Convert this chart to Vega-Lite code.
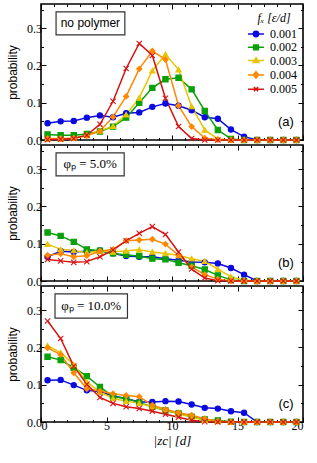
{
"$schema": "https://vega.github.io/schema/vega-lite/v6.json",
"padding": {"left": 5, "top": 2, "right": 11, "bottom": 2},
"background": "white",
"spacing": 5,
"bounds": "flush",
"config": {
 "view": {"stroke": "black", "strokeWidth": 1.6},
 "axis": {"domain": false, "grid": false, "tickColor": "black", "tickWidth": 1, "labelFont": "Liberation Serif", "labelFontSize": 12, "labelColor": "black", "titleFont": "Liberation Sans", "titleFontWeight": "normal", "titleFontSize": 12, "titleColor": "black", "labelPadding": 4.5, "titlePadding": 7}
},
"datasets": {"d": [
{"p":"a","f":"0.001","z":0.5,"v":0.045},{"p":"a","f":"0.001","z":1.5,"v":0.050},{"p":"a","f":"0.001","z":2.5,"v":0.051},{"p":"a","f":"0.001","z":3.5,"v":0.060},{"p":"a","f":"0.001","z":4.5,"v":0.066},{"p":"a","f":"0.001","z":5.5,"v":0.061},{"p":"a","f":"0.001","z":6.5,"v":0.072},{"p":"a","f":"0.001","z":7.5,"v":0.074},{"p":"a","f":"0.001","z":8.5,"v":0.089},{"p":"a","f":"0.001","z":9.5,"v":0.098},{"p":"a","f":"0.001","z":10.5,"v":0.092},{"p":"a","f":"0.001","z":11.5,"v":0.080},{"p":"a","f":"0.001","z":12.5,"v":0.061},{"p":"a","f":"0.001","z":13.5,"v":0.057},{"p":"a","f":"0.001","z":14.5,"v":0.028},{"p":"a","f":"0.001","z":15.5,"v":0.009},{"p":"a","f":"0.001","z":16.5,"v":0},{"p":"a","f":"0.001","z":17.5,"v":0},{"p":"a","f":"0.001","z":18.5,"v":0},{"p":"a","f":"0.001","z":19.5,"v":0},
{"p":"a","f":"0.002","z":0.5,"v":0.015},{"p":"a","f":"0.002","z":1.5,"v":0.013},{"p":"a","f":"0.002","z":2.5,"v":0.013},{"p":"a","f":"0.002","z":3.5,"v":0.016},{"p":"a","f":"0.002","z":4.5,"v":0.023},{"p":"a","f":"0.002","z":5.5,"v":0.036},{"p":"a","f":"0.002","z":6.5,"v":0.060},{"p":"a","f":"0.002","z":7.5,"v":0.100},{"p":"a","f":"0.002","z":8.5,"v":0.140},{"p":"a","f":"0.002","z":9.5,"v":0.163},{"p":"a","f":"0.002","z":10.5,"v":0.167},{"p":"a","f":"0.002","z":11.5,"v":0.136},{"p":"a","f":"0.002","z":12.5,"v":0.078},{"p":"a","f":"0.002","z":13.5,"v":0.027},{"p":"a","f":"0.002","z":14.5,"v":0.003},{"p":"a","f":"0.002","z":15.5,"v":0},{"p":"a","f":"0.002","z":16.5,"v":0},{"p":"a","f":"0.002","z":17.5,"v":0},{"p":"a","f":"0.002","z":18.5,"v":0},{"p":"a","f":"0.002","z":19.5,"v":0},
{"p":"a","f":"0.003","z":0.5,"v":0.003},{"p":"a","f":"0.003","z":1.5,"v":0.003},{"p":"a","f":"0.003","z":2.5,"v":0.005},{"p":"a","f":"0.003","z":3.5,"v":0.012},{"p":"a","f":"0.003","z":4.5,"v":0.025},{"p":"a","f":"0.003","z":5.5,"v":0.037},{"p":"a","f":"0.003","z":6.5,"v":0.068},{"p":"a","f":"0.003","z":7.5,"v":0.113},{"p":"a","f":"0.003","z":8.5,"v":0.186},{"p":"a","f":"0.003","z":9.5,"v":0.230},{"p":"a","f":"0.003","z":10.5,"v":0.189},{"p":"a","f":"0.003","z":11.5,"v":0.090},{"p":"a","f":"0.003","z":12.5,"v":0.027},{"p":"a","f":"0.003","z":13.5,"v":0.003},{"p":"a","f":"0.003","z":14.5,"v":0},{"p":"a","f":"0.003","z":15.5,"v":0},{"p":"a","f":"0.003","z":16.5,"v":0},{"p":"a","f":"0.003","z":17.5,"v":0},{"p":"a","f":"0.003","z":18.5,"v":0},{"p":"a","f":"0.003","z":19.5,"v":0},
{"p":"a","f":"0.004","z":0.5,"v":0.004},{"p":"a","f":"0.004","z":1.5,"v":0.004},{"p":"a","f":"0.004","z":2.5,"v":0.005},{"p":"a","f":"0.004","z":3.5,"v":0.012},{"p":"a","f":"0.004","z":4.5,"v":0.024},{"p":"a","f":"0.004","z":5.5,"v":0.062},{"p":"a","f":"0.004","z":6.5,"v":0.117},{"p":"a","f":"0.004","z":7.5,"v":0.191},{"p":"a","f":"0.004","z":8.5,"v":0.239},{"p":"a","f":"0.004","z":9.5,"v":0.216},{"p":"a","f":"0.004","z":10.5,"v":0.092},{"p":"a","f":"0.004","z":11.5,"v":0.036},{"p":"a","f":"0.004","z":12.5,"v":0.005},{"p":"a","f":"0.004","z":13.5,"v":0.001},{"p":"a","f":"0.004","z":14.5,"v":0},{"p":"a","f":"0.004","z":15.5,"v":0},{"p":"a","f":"0.004","z":16.5,"v":0},{"p":"a","f":"0.004","z":17.5,"v":0},{"p":"a","f":"0.004","z":18.5,"v":0},{"p":"a","f":"0.004","z":19.5,"v":0},
{"p":"a","f":"0.005","z":0.5,"v":0.001},{"p":"a","f":"0.005","z":1.5,"v":0.002},{"p":"a","f":"0.005","z":2.5,"v":0.004},{"p":"a","f":"0.005","z":3.5,"v":0.013},{"p":"a","f":"0.005","z":4.5,"v":0.042},{"p":"a","f":"0.005","z":5.5,"v":0.104},{"p":"a","f":"0.005","z":6.5,"v":0.192},{"p":"a","f":"0.005","z":7.5,"v":0.259},{"p":"a","f":"0.005","z":8.5,"v":0.227},{"p":"a","f":"0.005","z":9.5,"v":0.112},{"p":"a","f":"0.005","z":10.5,"v":0.036},{"p":"a","f":"0.005","z":11.5,"v":0.004},{"p":"a","f":"0.005","z":12.5,"v":0},{"p":"a","f":"0.005","z":13.5,"v":0},{"p":"a","f":"0.005","z":14.5,"v":0},{"p":"a","f":"0.005","z":15.5,"v":0},{"p":"a","f":"0.005","z":16.5,"v":0},{"p":"a","f":"0.005","z":17.5,"v":0},{"p":"a","f":"0.005","z":18.5,"v":0},{"p":"a","f":"0.005","z":19.5,"v":0},
{"p":"b","f":"0.001","z":0.5,"v":0.065},{"p":"b","f":"0.001","z":1.5,"v":0.080},{"p":"b","f":"0.001","z":2.5,"v":0.078},{"p":"b","f":"0.001","z":3.5,"v":0.080},{"p":"b","f":"0.001","z":4.5,"v":0.082},{"p":"b","f":"0.001","z":5.5,"v":0.074},{"p":"b","f":"0.001","z":6.5,"v":0.067},{"p":"b","f":"0.001","z":7.5,"v":0.065},{"p":"b","f":"0.001","z":8.5,"v":0.065},{"p":"b","f":"0.001","z":9.5,"v":0.060},{"p":"b","f":"0.001","z":10.5,"v":0.056},{"p":"b","f":"0.001","z":11.5,"v":0.051},{"p":"b","f":"0.001","z":12.5,"v":0.050},{"p":"b","f":"0.001","z":13.5,"v":0.047},{"p":"b","f":"0.001","z":14.5,"v":0.035},{"p":"b","f":"0.001","z":15.5,"v":0.017},{"p":"b","f":"0.001","z":16.5,"v":0},{"p":"b","f":"0.001","z":17.5,"v":0},{"p":"b","f":"0.001","z":18.5,"v":0},{"p":"b","f":"0.001","z":19.5,"v":0},
{"p":"b","f":"0.002","z":0.5,"v":0.130},{"p":"b","f":"0.002","z":1.5,"v":0.121},{"p":"b","f":"0.002","z":2.5,"v":0.105},{"p":"b","f":"0.002","z":3.5,"v":0.085},{"p":"b","f":"0.002","z":4.5,"v":0.081},{"p":"b","f":"0.002","z":5.5,"v":0.074},{"p":"b","f":"0.002","z":6.5,"v":0.070},{"p":"b","f":"0.002","z":7.5,"v":0.067},{"p":"b","f":"0.002","z":8.5,"v":0.060},{"p":"b","f":"0.002","z":9.5,"v":0.058},{"p":"b","f":"0.002","z":10.5,"v":0.049},{"p":"b","f":"0.002","z":11.5,"v":0.041},{"p":"b","f":"0.002","z":12.5,"v":0.031},{"p":"b","f":"0.002","z":13.5,"v":0.015},{"p":"b","f":"0.002","z":14.5,"v":0.003},{"p":"b","f":"0.002","z":15.5,"v":0},{"p":"b","f":"0.002","z":16.5,"v":0},{"p":"b","f":"0.002","z":17.5,"v":0},{"p":"b","f":"0.002","z":18.5,"v":0},{"p":"b","f":"0.002","z":19.5,"v":0},
{"p":"b","f":"0.003","z":0.5,"v":0.099},{"p":"b","f":"0.003","z":1.5,"v":0.085},{"p":"b","f":"0.003","z":2.5,"v":0.082},{"p":"b","f":"0.003","z":3.5,"v":0.076},{"p":"b","f":"0.003","z":4.5,"v":0.081},{"p":"b","f":"0.003","z":5.5,"v":0.078},{"p":"b","f":"0.003","z":6.5,"v":0.081},{"p":"b","f":"0.003","z":7.5,"v":0.084},{"p":"b","f":"0.003","z":8.5,"v":0.078},{"p":"b","f":"0.003","z":9.5,"v":0.074},{"p":"b","f":"0.003","z":10.5,"v":0.069},{"p":"b","f":"0.003","z":11.5,"v":0.060},{"p":"b","f":"0.003","z":12.5,"v":0.053},{"p":"b","f":"0.003","z":13.5,"v":0.032},{"p":"b","f":"0.003","z":14.5,"v":0.011},{"p":"b","f":"0.003","z":15.5,"v":0.002},{"p":"b","f":"0.003","z":16.5,"v":0},{"p":"b","f":"0.003","z":17.5,"v":0},{"p":"b","f":"0.003","z":18.5,"v":0},{"p":"b","f":"0.003","z":19.5,"v":0},
{"p":"b","f":"0.004","z":0.5,"v":0.069},{"p":"b","f":"0.004","z":1.5,"v":0.073},{"p":"b","f":"0.004","z":2.5,"v":0.065},{"p":"b","f":"0.004","z":3.5,"v":0.068},{"p":"b","f":"0.004","z":4.5,"v":0.080},{"p":"b","f":"0.004","z":5.5,"v":0.085},{"p":"b","f":"0.004","z":6.5,"v":0.108},{"p":"b","f":"0.004","z":7.5,"v":0.110},{"p":"b","f":"0.004","z":8.5,"v":0.112},{"p":"b","f":"0.004","z":9.5,"v":0.099},{"p":"b","f":"0.004","z":10.5,"v":0.069},{"p":"b","f":"0.004","z":11.5,"v":0.038},{"p":"b","f":"0.004","z":12.5,"v":0.017},{"p":"b","f":"0.004","z":13.5,"v":0.005},{"p":"b","f":"0.004","z":14.5,"v":0},{"p":"b","f":"0.004","z":15.5,"v":0},{"p":"b","f":"0.004","z":16.5,"v":0},{"p":"b","f":"0.004","z":17.5,"v":0},{"p":"b","f":"0.004","z":18.5,"v":0},{"p":"b","f":"0.004","z":19.5,"v":0},
{"p":"b","f":"0.005","z":0.5,"v":0.058},{"p":"b","f":"0.005","z":1.5,"v":0.054},{"p":"b","f":"0.005","z":2.5,"v":0.050},{"p":"b","f":"0.005","z":3.5,"v":0.052},{"p":"b","f":"0.005","z":4.5,"v":0.065},{"p":"b","f":"0.005","z":5.5,"v":0.083},{"p":"b","f":"0.005","z":6.5,"v":0.108},{"p":"b","f":"0.005","z":7.5,"v":0.128},{"p":"b","f":"0.005","z":8.5,"v":0.146},{"p":"b","f":"0.005","z":9.5,"v":0.125},{"p":"b","f":"0.005","z":10.5,"v":0.078},{"p":"b","f":"0.005","z":11.5,"v":0.032},{"p":"b","f":"0.005","z":12.5,"v":0.008},{"p":"b","f":"0.005","z":13.5,"v":0.001},{"p":"b","f":"0.005","z":14.5,"v":0},{"p":"b","f":"0.005","z":15.5,"v":0},{"p":"b","f":"0.005","z":16.5,"v":0},{"p":"b","f":"0.005","z":17.5,"v":0},{"p":"b","f":"0.005","z":18.5,"v":0},{"p":"b","f":"0.005","z":19.5,"v":0},
{"p":"c","f":"0.001","z":0.5,"v":0.112},{"p":"c","f":"0.001","z":1.5,"v":0.113},{"p":"c","f":"0.001","z":2.5,"v":0.099},{"p":"c","f":"0.001","z":3.5,"v":0.085},{"p":"c","f":"0.001","z":4.5,"v":0.082},{"p":"c","f":"0.001","z":5.5,"v":0.070},{"p":"c","f":"0.001","z":6.5,"v":0.063},{"p":"c","f":"0.001","z":7.5,"v":0.054},{"p":"c","f":"0.001","z":8.5,"v":0.054},{"p":"c","f":"0.001","z":9.5,"v":0.056},{"p":"c","f":"0.001","z":10.5,"v":0.055},{"p":"c","f":"0.001","z":11.5,"v":0.047},{"p":"c","f":"0.001","z":12.5,"v":0.038},{"p":"c","f":"0.001","z":13.5,"v":0.036},{"p":"c","f":"0.001","z":14.5,"v":0.029},{"p":"c","f":"0.001","z":15.5,"v":0.025},{"p":"c","f":"0.001","z":16.5,"v":0},{"p":"c","f":"0.001","z":17.5,"v":0},{"p":"c","f":"0.001","z":18.5,"v":0},{"p":"c","f":"0.001","z":19.5,"v":0},
{"p":"c","f":"0.002","z":0.5,"v":0.175},{"p":"c","f":"0.002","z":1.5,"v":0.166},{"p":"c","f":"0.002","z":2.5,"v":0.146},{"p":"c","f":"0.002","z":3.5,"v":0.123},{"p":"c","f":"0.002","z":4.5,"v":0.094},{"p":"c","f":"0.002","z":5.5,"v":0.068},{"p":"c","f":"0.002","z":6.5,"v":0.063},{"p":"c","f":"0.002","z":7.5,"v":0.052},{"p":"c","f":"0.002","z":8.5,"v":0.041},{"p":"c","f":"0.002","z":9.5,"v":0.031},{"p":"c","f":"0.002","z":10.5,"v":0.023},{"p":"c","f":"0.002","z":11.5,"v":0.014},{"p":"c","f":"0.002","z":12.5,"v":0.007},{"p":"c","f":"0.002","z":13.5,"v":0.004},{"p":"c","f":"0.002","z":14.5,"v":0.001},{"p":"c","f":"0.002","z":15.5,"v":0},{"p":"c","f":"0.002","z":16.5,"v":0},{"p":"c","f":"0.002","z":17.5,"v":0},{"p":"c","f":"0.002","z":18.5,"v":0},{"p":"c","f":"0.002","z":19.5,"v":0},
{"p":"c","f":"0.003","z":0.5,"v":0.205},{"p":"c","f":"0.003","z":1.5,"v":0.186},{"p":"c","f":"0.003","z":2.5,"v":0.154},{"p":"c","f":"0.003","z":3.5,"v":0.107},{"p":"c","f":"0.003","z":4.5,"v":0.081},{"p":"c","f":"0.003","z":5.5,"v":0.063},{"p":"c","f":"0.003","z":6.5,"v":0.056},{"p":"c","f":"0.003","z":7.5,"v":0.050},{"p":"c","f":"0.003","z":8.5,"v":0.041},{"p":"c","f":"0.003","z":9.5,"v":0.033},{"p":"c","f":"0.003","z":10.5,"v":0.022},{"p":"c","f":"0.003","z":11.5,"v":0.013},{"p":"c","f":"0.003","z":12.5,"v":0.005},{"p":"c","f":"0.003","z":13.5,"v":0.002},{"p":"c","f":"0.003","z":14.5,"v":0},{"p":"c","f":"0.003","z":15.5,"v":0},{"p":"c","f":"0.003","z":16.5,"v":0},{"p":"c","f":"0.003","z":17.5,"v":0},{"p":"c","f":"0.003","z":18.5,"v":0},{"p":"c","f":"0.003","z":19.5,"v":0},
{"p":"c","f":"0.004","z":0.5,"v":0.199},{"p":"c","f":"0.004","z":1.5,"v":0.181},{"p":"c","f":"0.004","z":2.5,"v":0.132},{"p":"c","f":"0.004","z":3.5,"v":0.089},{"p":"c","f":"0.004","z":4.5,"v":0.083},{"p":"c","f":"0.004","z":5.5,"v":0.076},{"p":"c","f":"0.004","z":6.5,"v":0.071},{"p":"c","f":"0.004","z":7.5,"v":0.068},{"p":"c","f":"0.004","z":8.5,"v":0.045},{"p":"c","f":"0.004","z":9.5,"v":0.034},{"p":"c","f":"0.004","z":10.5,"v":0.025},{"p":"c","f":"0.004","z":11.5,"v":0.018},{"p":"c","f":"0.004","z":12.5,"v":0.009},{"p":"c","f":"0.004","z":13.5,"v":0.002},{"p":"c","f":"0.004","z":14.5,"v":0},{"p":"c","f":"0.004","z":15.5,"v":0},{"p":"c","f":"0.004","z":16.5,"v":0},{"p":"c","f":"0.004","z":17.5,"v":0},{"p":"c","f":"0.004","z":18.5,"v":0},{"p":"c","f":"0.004","z":19.5,"v":0},
{"p":"c","f":"0.005","z":0.5,"v":0.271},{"p":"c","f":"0.005","z":1.5,"v":0.224},{"p":"c","f":"0.005","z":2.5,"v":0.150},{"p":"c","f":"0.005","z":3.5,"v":0.101},{"p":"c","f":"0.005","z":4.5,"v":0.066},{"p":"c","f":"0.005","z":5.5,"v":0.050},{"p":"c","f":"0.005","z":6.5,"v":0.041},{"p":"c","f":"0.005","z":7.5,"v":0.036},{"p":"c","f":"0.005","z":8.5,"v":0.029},{"p":"c","f":"0.005","z":9.5,"v":0.021},{"p":"c","f":"0.005","z":10.5,"v":0.013},{"p":"c","f":"0.005","z":11.5,"v":0.005},{"p":"c","f":"0.005","z":12.5,"v":0.001},{"p":"c","f":"0.005","z":13.5,"v":0},{"p":"c","f":"0.005","z":14.5,"v":0},{"p":"c","f":"0.005","z":15.5,"v":0},{"p":"c","f":"0.005","z":16.5,"v":0},{"p":"c","f":"0.005","z":17.5,"v":0},{"p":"c","f":"0.005","z":18.5,"v":0},{"p":"c","f":"0.005","z":19.5,"v":0}
]},
"vconcat": [
{
 "width": 262, "height": 136,
 "layer": [
  {"data": {"name": "d"}, "transform": [{"filter": "datum.p == 'a'"}],
   "mark": {"type": "line", "strokeWidth": 1.5},
   "encoding": {
    "x": {"field": "z", "type": "quantitative", "scale": {"domain": [0, 20], "nice": false}, "axis": {"orient": "bottom", "values": [0,5,10,15,20], "tickSize": -5, "labels": false, "title": null}},
    "y": {"field": "v", "type": "quantitative", "scale": {"domain": [0, 0.365], "nice": false}, "axis": {"orient": "left", "values": [0,0.1,0.2,0.3], "format": ".1f", "tickSize": -5, "title": "probability"}},
    "color": {"field": "f", "type": "nominal", "scale": {"domain": ["0.001","0.002","0.003","0.004","0.005"], "range": ["#0a0ae0","#0aa00a","#e8c400","#ff8800","#d61010"]},
     "legend": {"orient": "none", "legendX": 209, "legendY": 9, "title": "fₓ [ε/d]", "titleFont": "Liberation Serif", "titleFontStyle": "italic", "titleFontWeight": "normal", "titleFontSize": 12, "titleColor": "black", "titleAnchor": "middle", "titlePadding": 3, "labelFont": "Liberation Serif", "labelFontSize": 12, "labelColor": "black", "labelOffset": 8, "rowPadding": 1.3, "symbolSize": 28, "padding": 0,
      "encode": {"symbols": {"update": {
       "shape": {"signal": "datum.value == '0.001' ? 'M-3,0L3,0M1,0A1,1,0,1,1,-1,0A1,1,0,1,1,1,0Z' : datum.value == '0.002' ? 'M-3,0L3,0M-0.9,-0.9L0.9,-0.9L0.9,0.9L-0.9,0.9Z' : datum.value == '0.003' ? 'M-3,0L3,0M0,-1.1L1.05,0.7L-1.05,0.7Z' : datum.value == '0.004' ? 'M-3,0L3,0M0,-1.2L1,0L0,1.2L-1,0Z' : 'M-3,0L3,0M-0.8,-0.8L0.8,0.8M-0.8,0.8L0.8,-0.8'"},
       "fill": {"signal": "datum.value == '0.001' ? '#0a0ae0' : datum.value == '0.002' ? '#0aa00a' : datum.value == '0.003' ? '#e8c400' : datum.value == '0.004' ? '#ff8800' : '#d61010'"},
       "stroke": {"signal": "datum.value == '0.001' ? '#0a0ae0' : datum.value == '0.002' ? '#0aa00a' : datum.value == '0.003' ? '#e8c400' : datum.value == '0.004' ? '#ff8800' : '#d61010'"},
       "strokeWidth": {"value": 1.5}, "size": {"value": 28}, "opacity": {"value": 1}}}}}}
   }},
  {"data": {"name": "d"}, "transform": [{"filter": "datum.p == 'a'"}],
   "mark": {"type": "point", "filled": true, "size": 28, "strokeWidth": 1.1, "opacity": 1},
   "encoding": {
    "x": {"field": "z", "type": "quantitative", "axis": null},
    "y": {"field": "v", "type": "quantitative", "axis": null},
    "color": {"field": "f", "type": "nominal", "scale": {"domain": ["0.001","0.002","0.003","0.004","0.005"], "range": ["#0a0ae0","#0aa00a","#e8c400","#ff8800","#d61010"]}, "legend": null},
    "stroke": {"field": "f", "type": "nominal", "scale": {"domain": ["0.001","0.002","0.003","0.004","0.005"], "range": ["#0a0ae0","#0aa00a","#e8c400","#ff8800","#d61010"]}, "legend": null},
    "shape": {"field": "f", "type": "nominal", "scale": {"domain": ["0.001","0.002","0.003","0.004","0.005"], "range": ["circle","square","triangle-up","diamond","M-1,-1L1,1M-1,1L1,-1"]}, "legend": null}
   }},
  {"data": {"values": [{}]}, "mark": {"type": "point", "opacity": 0},
   "encoding": {
    "x": {"datum": 0, "type": "quantitative", "axis": {"orient": "top", "values": [0,5,10,15,20], "tickSize": -5, "labels": false, "title": null}},
    "y": {"datum": 0, "type": "quantitative", "axis": {"orient": "right", "values": [0,0.1,0.2,0.3], "tickSize": -5, "labels": false, "title": null}}}},
  {"data": {"values": [{}]}, "mark": {"type": "point", "opacity": 0},
   "encoding": {
    "x": {"datum": 0, "type": "quantitative", "axis": {"orient": "bottom", "values": [1,2,3,4,6,7,8,9,11,12,13,14,16,17,18,19], "tickSize": -2.5, "labels": false, "title": null}},
    "y": {"datum": 0, "type": "quantitative", "axis": {"orient": "left", "values": [0.05,0.15,0.25,0.35], "tickSize": -2.5, "labels": false, "title": null}}}},
  {"data": {"values": [{}]}, "mark": {"type": "point", "opacity": 0},
   "encoding": {
    "x": {"datum": 0, "type": "quantitative", "axis": {"orient": "top", "values": [1,2,3,4,6,7,8,9,11,12,13,14,16,17,18,19], "tickSize": -2.5, "labels": false, "title": null}},
    "y": {"datum": 0, "type": "quantitative", "axis": {"orient": "right", "values": [0.05,0.15,0.25,0.35], "tickSize": -2.5, "labels": false, "title": null}}}},
  {"data": {"values": [{}]}, "mark": {"type": "rect", "fill": "white", "stroke": "#333333", "strokeWidth": 1.2},
   "encoding": {"x": {"datum": 1.15, "type": "quantitative", "axis": null}, "x2": {"datum": 6.4}, "y": {"datum": 0.344, "type": "quantitative", "axis": null}, "y2": {"datum": 0.282}}},
  {"data": {"values": [{}]}, "mark": {"type": "text", "font": "Liberation Sans", "fontSize": 12, "color": "black"},
   "encoding": {"x": {"datum": 3.77, "type": "quantitative", "axis": null}, "y": {"datum": 0.313, "type": "quantitative", "axis": null}, "text": {"value": "no polymer"}}},
  {"data": {"values": [{}]}, "mark": {"type": "text", "font": "Liberation Sans", "fontSize": 13, "color": "black"},
   "encoding": {"x": {"datum": 18.7, "type": "quantitative", "axis": null}, "y": {"datum": 0.047, "type": "quantitative", "axis": null}, "text": {"value": "(a)"}}}
 ],
 "resolve": {"axis": {"x": "independent", "y": "independent"}, "scale": {"color": "independent"}}
},
{
 "width": 262, "height": 136,
 "layer": [
  {"data": {"name": "d"}, "transform": [{"filter": "datum.p == 'b'"}],
   "mark": {"type": "line", "strokeWidth": 1.5},
   "encoding": {
    "x": {"field": "z", "type": "quantitative", "scale": {"domain": [0, 20], "nice": false}, "axis": {"orient": "bottom", "values": [0,5,10,15,20], "tickSize": -5, "labels": false, "title": null}},
    "y": {"field": "v", "type": "quantitative", "scale": {"domain": [0, 0.365], "nice": false}, "axis": {"orient": "left", "values": [0,0.1,0.2,0.3], "format": ".1f", "tickSize": -5, "title": "probability"}},
    "color": {"field": "f", "type": "nominal", "scale": {"domain": ["0.001","0.002","0.003","0.004","0.005"], "range": ["#0a0ae0","#0aa00a","#e8c400","#ff8800","#d61010"]}, "legend": null}
   }},
  {"data": {"name": "d"}, "transform": [{"filter": "datum.p == 'b'"}],
   "mark": {"type": "point", "filled": true, "size": 28, "strokeWidth": 1.1, "opacity": 1},
   "encoding": {
    "x": {"field": "z", "type": "quantitative", "axis": null},
    "y": {"field": "v", "type": "quantitative", "axis": null},
    "color": {"field": "f", "type": "nominal", "legend": null},
    "stroke": {"field": "f", "type": "nominal", "scale": {"domain": ["0.001","0.002","0.003","0.004","0.005"], "range": ["#0a0ae0","#0aa00a","#e8c400","#ff8800","#d61010"]}, "legend": null},
    "shape": {"field": "f", "type": "nominal", "scale": {"domain": ["0.001","0.002","0.003","0.004","0.005"], "range": ["circle","square","triangle-up","diamond","M-1,-1L1,1M-1,1L1,-1"]}, "legend": null}
   }},
  {"data": {"values": [{}]}, "mark": {"type": "point", "opacity": 0},
   "encoding": {
    "x": {"datum": 0, "type": "quantitative", "axis": {"orient": "top", "values": [0,5,10,15,20], "tickSize": -5, "labels": false, "title": null}},
    "y": {"datum": 0, "type": "quantitative", "axis": {"orient": "right", "values": [0,0.1,0.2,0.3], "tickSize": -5, "labels": false, "title": null}}}},
  {"data": {"values": [{}]}, "mark": {"type": "point", "opacity": 0},
   "encoding": {
    "x": {"datum": 0, "type": "quantitative", "axis": {"orient": "bottom", "values": [1,2,3,4,6,7,8,9,11,12,13,14,16,17,18,19], "tickSize": -2.5, "labels": false, "title": null}},
    "y": {"datum": 0, "type": "quantitative", "axis": {"orient": "left", "values": [0.05,0.15,0.25,0.35], "tickSize": -2.5, "labels": false, "title": null}}}},
  {"data": {"values": [{}]}, "mark": {"type": "point", "opacity": 0},
   "encoding": {
    "x": {"datum": 0, "type": "quantitative", "axis": {"orient": "top", "values": [1,2,3,4,6,7,8,9,11,12,13,14,16,17,18,19], "tickSize": -2.5, "labels": false, "title": null}},
    "y": {"datum": 0, "type": "quantitative", "axis": {"orient": "right", "values": [0.05,0.15,0.25,0.35], "tickSize": -2.5, "labels": false, "title": null}}}},
  {"data": {"values": [{}]}, "mark": {"type": "rect", "fill": "white", "stroke": "#333333", "strokeWidth": 1.2},
   "encoding": {"x": {"datum": 1.15, "type": "quantitative", "axis": null}, "x2": {"datum": 6.35}, "y": {"datum": 0.344, "type": "quantitative", "axis": null}, "y2": {"datum": 0.282}}},
  {"data": {"values": [{}]}, "mark": {"type": "text", "font": "Liberation Serif", "fontSize": 13, "color": "black"},
   "encoding": {"x": {"datum": 3.75, "type": "quantitative", "axis": null}, "y": {"datum": 0.313, "type": "quantitative", "axis": null}, "text": {"value": "φₚ = 5.0%"}}},
  {"data": {"values": [{}]}, "mark": {"type": "text", "font": "Liberation Sans", "fontSize": 13, "color": "black"},
   "encoding": {"x": {"datum": 18.7, "type": "quantitative", "axis": null}, "y": {"datum": 0.047, "type": "quantitative", "axis": null}, "text": {"value": "(b)"}}}
 ],
 "resolve": {"axis": {"x": "independent", "y": "independent"}}
},
{
 "width": 262, "height": 136,
 "layer": [
  {"data": {"name": "d"}, "transform": [{"filter": "datum.p == 'c'"}],
   "mark": {"type": "line", "strokeWidth": 1.5},
   "encoding": {
    "x": {"field": "z", "type": "quantitative", "scale": {"domain": [0, 20], "nice": false}, "axis": {"orient": "bottom", "values": [0,5,10,15,20], "tickSize": -5, "labelPadding": 3, "title": "|zc| [d]", "titleFont": "Liberation Serif", "titleFontStyle": "italic", "titleFontSize": 13, "titlePadding": 3}},
    "y": {"field": "v", "type": "quantitative", "scale": {"domain": [0, 0.365], "nice": false}, "axis": {"orient": "left", "values": [0,0.1,0.2,0.3], "format": ".1f", "tickSize": -5, "title": "probability"}},
    "color": {"field": "f", "type": "nominal", "scale": {"domain": ["0.001","0.002","0.003","0.004","0.005"], "range": ["#0a0ae0","#0aa00a","#e8c400","#ff8800","#d61010"]}, "legend": null}
   }},
  {"data": {"name": "d"}, "transform": [{"filter": "datum.p == 'c'"}],
   "mark": {"type": "point", "filled": true, "size": 28, "strokeWidth": 1.1, "opacity": 1},
   "encoding": {
    "x": {"field": "z", "type": "quantitative", "axis": null},
    "y": {"field": "v", "type": "quantitative", "axis": null},
    "color": {"field": "f", "type": "nominal", "legend": null},
    "stroke": {"field": "f", "type": "nominal", "scale": {"domain": ["0.001","0.002","0.003","0.004","0.005"], "range": ["#0a0ae0","#0aa00a","#e8c400","#ff8800","#d61010"]}, "legend": null},
    "shape": {"field": "f", "type": "nominal", "scale": {"domain": ["0.001","0.002","0.003","0.004","0.005"], "range": ["circle","square","triangle-up","diamond","M-1,-1L1,1M-1,1L1,-1"]}, "legend": null}
   }},
  {"data": {"values": [{}]}, "mark": {"type": "point", "opacity": 0},
   "encoding": {
    "x": {"datum": 0, "type": "quantitative", "axis": {"orient": "top", "values": [0,5,10,15,20], "tickSize": -5, "labels": false, "title": null}},
    "y": {"datum": 0, "type": "quantitative", "axis": {"orient": "right", "values": [0,0.1,0.2,0.3], "tickSize": -5, "labels": false, "title": null}}}},
  {"data": {"values": [{}]}, "mark": {"type": "point", "opacity": 0},
   "encoding": {
    "x": {"datum": 0, "type": "quantitative", "axis": {"orient": "bottom", "values": [1,2,3,4,6,7,8,9,11,12,13,14,16,17,18,19], "tickSize": -2.5, "labels": false, "title": null}},
    "y": {"datum": 0, "type": "quantitative", "axis": {"orient": "left", "values": [0.05,0.15,0.25,0.35], "tickSize": -2.5, "labels": false, "title": null}}}},
  {"data": {"values": [{}]}, "mark": {"type": "point", "opacity": 0},
   "encoding": {
    "x": {"datum": 0, "type": "quantitative", "axis": {"orient": "top", "values": [1,2,3,4,6,7,8,9,11,12,13,14,16,17,18,19], "tickSize": -2.5, "labels": false, "title": null}},
    "y": {"datum": 0, "type": "quantitative", "axis": {"orient": "right", "values": [0.05,0.15,0.25,0.35], "tickSize": -2.5, "labels": false, "title": null}}}},
  {"data": {"values": [{}]}, "mark": {"type": "rect", "fill": "white", "stroke": "#333333", "strokeWidth": 1.2},
   "encoding": {"x": {"datum": 1.07, "type": "quantitative", "axis": null}, "x2": {"datum": 6.6}, "y": {"datum": 0.344, "type": "quantitative", "axis": null}, "y2": {"datum": 0.279}}},
  {"data": {"values": [{}]}, "mark": {"type": "text", "font": "Liberation Serif", "fontSize": 13, "color": "black"},
   "encoding": {"x": {"datum": 3.83, "type": "quantitative", "axis": null}, "y": {"datum": 0.311, "type": "quantitative", "axis": null}, "text": {"value": "φₚ = 10.0%"}}},
  {"data": {"values": [{}]}, "mark": {"type": "text", "font": "Liberation Sans", "fontSize": 13, "color": "black"},
   "encoding": {"x": {"datum": 18.7, "type": "quantitative", "axis": null}, "y": {"datum": 0.047, "type": "quantitative", "axis": null}, "text": {"value": "(c)"}}}
 ],
 "resolve": {"axis": {"x": "independent", "y": "independent"}}
}
]
}
